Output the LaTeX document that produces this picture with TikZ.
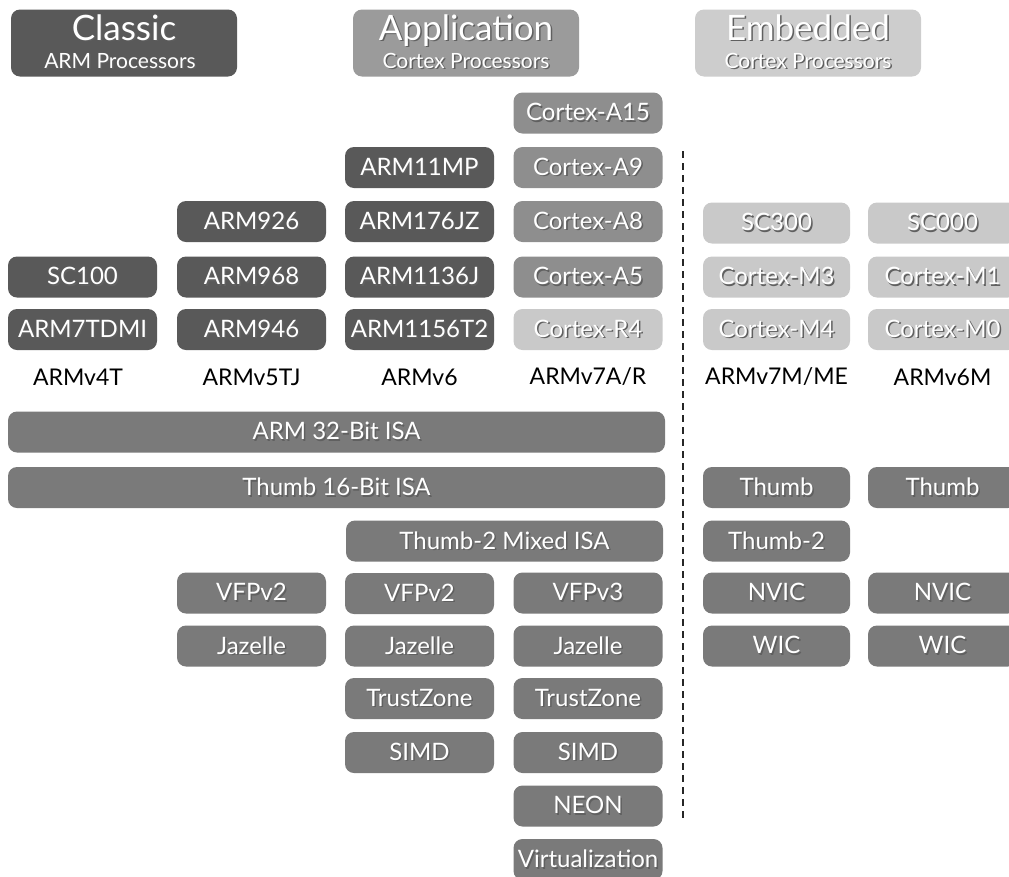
\documentclass[tikz,border=0pt]{standalone}
\usepackage{fontspec}
\setmainfont{Lato}
\definecolor{cClassic}{HTML}{595959}
\definecolor{cCortexA}{HTML}{8E8E8E}
\definecolor{cLight}{HTML}{C9C9C9}
\definecolor{cFeature}{HTML}{7A7A7A}
\definecolor{cHeadApp}{HTML}{9B9B9B}
\definecolor{cHeadEmb}{HTML}{CDCDCD}
\definecolor{txtshadow}{gray}{0.22}
% white lettering with a soft drop shadow
\newcommand\stxt[1]{\leavevmode\rlap{\kern1.5pt\raisebox{-1.5pt}{\textcolor{txtshadow!80}{#1}}}#1}
\begin{document}
\begin{tikzpicture}[x=1pt,y=-1pt,
  chip/.style={rounded corners=9pt, minimum width=149pt, minimum height=41pt,
    inner sep=0pt, text=white, font=\fontsize{24}{24}\selectfont},
  classic/.style={chip, fill=cClassic},
  cortexa/.style={chip, fill=cCortexA},
  light/.style={chip, fill=cLight},
  feature/.style={chip, fill=cFeature},
  header/.style={rounded corners=9pt, minimum width=226pt, minimum height=67pt, inner sep=0pt},
  headtitle/.style={anchor=base, inner sep=0pt, text=white, font=\fontsize{35}{35}\selectfont},
  headsub/.style={anchor=base, inner sep=0pt, text=white, font=\fontsize{21}{21}\selectfont},
  archlabel/.style={text=black, font=\fontsize{23}{23}\selectfont, inner sep=0pt},
  divider/.style={line width=2pt, dash pattern=on 7pt off 5pt, black!85}
]
\useasboundingbox (0,0) rectangle (1009,876);
\clip (0,0) rectangle (1009,876);

% column headings
\node[header, fill=cClassic] (hClassic) at (124,43) {};
\node[headtitle] (hClassicT) at (124,40) {\stxt{Classic}};
\node[headsub] (hClassicS) at (120,68) {\stxt{ARM Processors}};
\node[header, fill=cHeadApp] (hApp) at (466,43) {};
\node[headtitle] (hAppT) at (466,40) {\stxt{Application}};
\node[headsub] (hAppS) at (466,68) {\stxt{Cortex Processors}};
\node[header, fill=cHeadEmb] (hEmb) at (808,43) {};
\node[headtitle] (hEmbT) at (808,40) {\stxt{Embedded}};
\node[headsub] (hEmbS) at (808,68) {\stxt{Cortex Processors}};

% ARMv4T
\node[classic] (sc100) at (82.5,277) {\stxt{SC100}};
\node[classic] (arm7tdmi) at (82.5,329.5) {\stxt{ARM7TDMI}};
% ARMv5TJ
\node[classic] (arm926) at (251.5,221.5) {\stxt{ARM926}};
\node[classic] (arm968) at (251.5,277) {\stxt{ARM968}};
\node[classic] (arm946) at (251.5,329.5) {\stxt{ARM946}};
% ARMv6
\node[classic] (arm11mp) at (419.5,167.5) {\stxt{ARM11MP}};
\node[classic] (arm176jz) at (419.5,221.5) {\stxt{ARM176JZ}};
\node[classic] (arm1136j) at (419.5,277) {\stxt{ARM1136J}};
\node[classic] (arm1156t2) at (419.5,329.5) {\stxt{ARM1156T2}};
% ARMv7A/R
\node[cortexa] (a15) at (588,113) {\stxt{Cortex-A15}};
\node[cortexa] (a9) at (588,167.5) {\stxt{Cortex-A9}};
\node[cortexa] (a8) at (588,221.5) {\stxt{Cortex-A8}};
\node[cortexa] (a5) at (588,277) {\stxt{Cortex-A5}};
\node[light] (r4) at (588,329.5) {\stxt{Cortex-R4}};
% ARMv7M/ME
\node[light, minimum width=147pt] (sc300) at (776.5,223) {\stxt{SC300}};
\node[light, minimum width=147pt] (m3) at (776.5,277) {\stxt{Cortex-M3}};
\node[light, minimum width=147pt] (m4) at (776.5,329.5) {\stxt{Cortex-M4}};
% ARMv6M
\node[light] (sc000) at (942.5,223) {\stxt{SC000}};
\node[light] (m1) at (942.5,277) {\stxt{Cortex-M1}};
\node[light] (m0) at (942.5,329.5) {\stxt{Cortex-M0}};

% architecture names
\node[archlabel] (v4t) at (78,377) {ARMv4T};
\node[archlabel] (v5tj) at (251.5,377) {ARMv5TJ};
\node[archlabel] (v6) at (419.5,377) {ARMv6};
\node[archlabel] (v7ar) at (588,377) {ARMv7A/R};
\node[archlabel] (v7m) at (776.5,377) {ARMv7M/ME};
\node[archlabel] (v6m) at (942.5,377) {ARMv6M};

% instruction sets
\node[feature, minimum width=657pt] (isa32) at (336.5,432) {\stxt{ARM 32-Bit ISA}};
\node[feature, minimum width=657pt] (isa16) at (336.5,487.5) {\stxt{Thumb 16-Bit ISA}};
\node[feature, minimum width=317pt] (isamix) at (504.5,541) {\stxt{Thumb-2 Mixed ISA}};
\node[feature, minimum width=147pt] (thumbM) at (776.5,487.5) {\stxt{Thumb}};
\node[feature] (thumbM0) at (942.5,487.5) {\stxt{Thumb}};
\node[feature, minimum width=147pt] (thumb2M) at (776.5,541) {\stxt{Thumb-2}};

% extensions
\node[feature] (vfp5) at (251.5,593) {\stxt{VFPv2}};
\node[feature] (jaz5) at (251.5,646) {\stxt{Jazelle}};
\node[feature] (vfp6) at (419.5,593.5) {\stxt{VFPv2}};
\node[feature] (jaz6) at (419.5,646) {\stxt{Jazelle}};
\node[feature] (tz6) at (419.5,698.5) {\stxt{TrustZone}};
\node[feature] (simd6) at (419.5,752.5) {\stxt{SIMD}};
\node[feature] (vfp7) at (588,593) {\stxt{VFPv3}};
\node[feature] (jaz7) at (588,646) {\stxt{Jazelle}};
\node[feature] (tz7) at (588,698.5) {\stxt{TrustZone}};
\node[feature] (simd7) at (588,752.5) {\stxt{SIMD}};
\node[feature] (neon7) at (588,806) {\stxt{NEON}};
\node[feature] (virt7) at (588,859.5) {\stxt{Virtualization}};
\node[feature, minimum width=147pt] (nvicM) at (776.5,593) {\stxt{NVIC}};
\node[feature, minimum width=147pt] (wicM) at (776.5,646) {\stxt{WIC}};
\node[feature] (nvicM0) at (942.5,593) {\stxt{NVIC}};
\node[feature] (wicM0) at (942.5,646) {\stxt{WIC}};

% application / embedded divider
\coordinate (dtop) at (683,151);
\coordinate (dbot) at (683,821);
\draw[divider] (dtop) -- (dbot);
\end{tikzpicture}
\end{document}
